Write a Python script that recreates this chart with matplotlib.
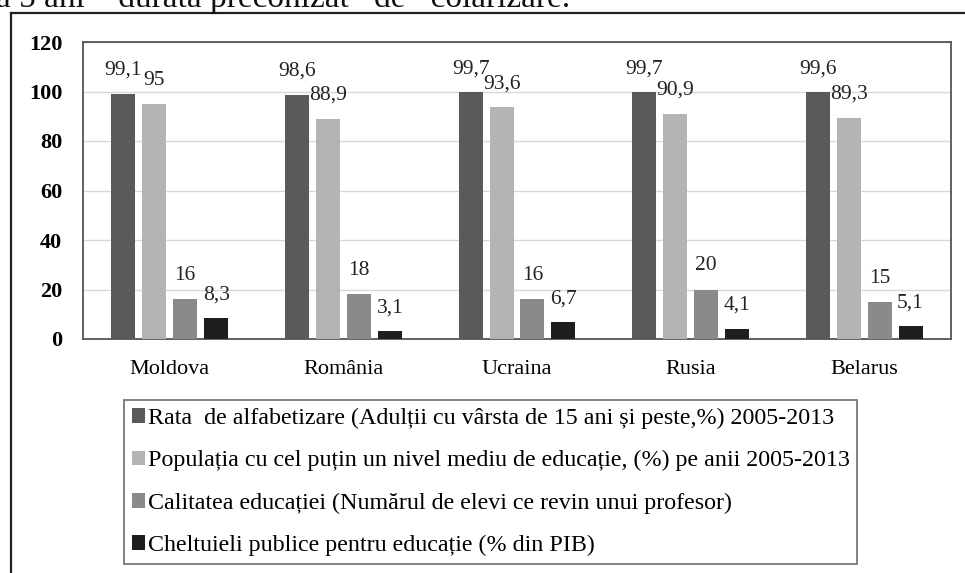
import matplotlib.pyplot as plt
import numpy as np
from matplotlib.patches import Patch
from matplotlib.lines import Line2D

# date
tari = ['Moldova', 'România', 'Ucraina', 'Rusia', 'Belarus']
alfabetizare = [99.1, 98.6, 99.7, 99.7, 99.6]
populatie_medie = [95, 88.9, 93.6, 90.9, 89.3]
calitate = [16, 18, 16, 20, 15]
cheltuieli = [8.3, 3.1, 6.7, 4.1, 5.1]

serii = [
    ('Rata  de alfabetizare (Adulții cu vârsta de 15 ani și peste,%) 2005-2013', alfabetizare, '#5a5a5a'),
    ('Populația cu cel puțin un nivel mediu de educație, (%) pe anii 2005-2013', populatie_medie, '#b4b4b4'),
    ('Calitatea educației (Numărul de elevi ce revin unui profesor)', calitate, '#8a8a8a'),
    ('Cheltuieli publice pentru educație (% din PIB)', cheltuieli, '#1e1e1e'),
]

plt.rcParams['font.family'] = 'Liberation Serif'

W, H = 965, 573
fig = plt.figure(figsize=(W / 100, H / 100), dpi=100)

# rama exterioara
fig.add_artist(Line2D([11 / W, 11 / W], [-0.05, 1 - 13 / H], color='#222222', lw=1.6))
fig.add_artist(Line2D([11 / W, 1.02], [1 - 13 / H, 1 - 13 / H], color='#222222', lw=1.6))

# text din document (taiat sus)
fig.text(-4 / W, 1 - 7 / H, 'ă 5 ani – durata preconizat   de   colarizare.', fontsize=24,
         va='baseline', ha='left', color='#111111')

ax = fig.add_axes([83 / W, 1 - 339 / H, (951 - 83) / W, (339 - 42) / H])

x = np.arange(len(tari))
latime = 0.138
pas = 0.178
for i, (nume, valori, culoare) in enumerate(serii):
    poz = x + (i - 1.5) * pas
    bare = ax.bar(poz, valori, latime, color=culoare, label=nume, zorder=3)
    for b, v in zip(bare, valori):
        txt = ('%g' % v).replace('.', ',')
        ax.annotate(txt, (b.get_x() + b.get_width() / 2, v), xytext=(0, 17),
                    textcoords='offset points', ha='center', va='center',
                    fontsize=15.5, color='#222222')

ax.set_xlim(-0.5, len(tari) - 0.5)
ax.set_ylim(0, 120)
ax.set_yticks(range(0, 121, 20))
ax.set_xticks(x)
ax.set_xticklabels(tari, fontsize=16)
ax.tick_params(axis='y', labelsize=16, length=0, pad=15)
ax.tick_params(axis='x', length=0, pad=15)
for lab in ax.get_yticklabels():
    lab.set_fontweight('bold')
ax.grid(axis='y', color='#d8d8d8', lw=1, zorder=0)
for s in ax.spines.values():
    s.set_color('#555555')
    s.set_linewidth(1.3)

handles = [Patch(facecolor=c, edgecolor='none') for _, _, c in serii]
leg = fig.legend(handles, [n for n, _, _ in serii], loc='upper left',
                 bbox_to_anchor=(124 / W, 1 - 400 / H), frameon=True, fancybox=False,
                 edgecolor='#555555', fontsize=17.3, handlelength=0.55, handleheight=0.55,
                 handletextpad=0.1, labelspacing=0.88, borderpad=0.33, borderaxespad=0)
leg.get_frame().set_linewidth(1.3)

fig.savefig('out.png', dpi=100)
